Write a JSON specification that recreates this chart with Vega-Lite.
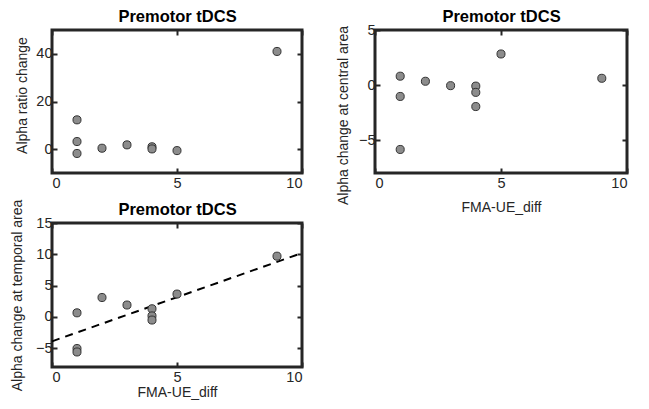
{
  "$schema": "https://vega.github.io/schema/vega-lite/v6.json",
  "background": "white",
  "padding": {"left": 8, "top": 6, "right": 5, "bottom": 5},
  "datasets": {
    "p1": [
      {"fma": 1, "val": 12.3}, {"fma": 1, "val": 3.2}, {"fma": 1, "val": -1.8},
      {"fma": 2, "val": 0.4}, {"fma": 3, "val": 1.8}, {"fma": 4, "val": 1.0},
      {"fma": 4, "val": 0.1}, {"fma": 5, "val": -0.6}, {"fma": 9, "val": 41}
    ],
    "p2": [
      {"fma": 1, "val": 0.8}, {"fma": 1, "val": -1.04}, {"fma": 1, "val": -5.86},
      {"fma": 2, "val": 0.34}, {"fma": 3, "val": -0.06}, {"fma": 4, "val": -0.1},
      {"fma": 4, "val": -0.67}, {"fma": 4, "val": -1.96}, {"fma": 5, "val": 2.82},
      {"fma": 9, "val": 0.61}
    ],
    "p3": [
      {"fma": 1, "val": 0.65}, {"fma": 1, "val": -5.05}, {"fma": 1, "val": -5.6},
      {"fma": 2, "val": 3.1}, {"fma": 3, "val": 1.9}, {"fma": 4, "val": 1.3},
      {"fma": 4, "val": 0.16}, {"fma": 4, "val": -0.5}, {"fma": 5, "val": 3.65},
      {"fma": 9, "val": 9.7}
    ],
    "fit": [
      {"fma": 0, "val": -3.9}, {"fma": 10, "val": 10.2}
    ]
  },
  "config": {
    "font": "Liberation Sans",
    "view": {"stroke": "#262626", "strokeWidth": 3},
    "axis": {
      "grid": false,
      "domain": false,
      "tickColor": "#262626",
      "tickWidth": 2,
      "tickSize": -5,
      "labelFont": "Liberation Sans",
      "labelFontSize": 14.5,
      "labelColor": "#262626",
      "titleFont": "Liberation Sans",
      "titleFontSize": 14,
      "titleFontWeight": "normal",
      "titleColor": "#262626"
    },
    "axisTop": {"titleFontSize": 16.5, "titleFontWeight": "bold", "titleColor": "#000000", "titlePadding": 5}
  },
  "concat": [
    {
      "width": 250, "height": 143,
      "resolve": {"axis": {"x": "independent", "y": "independent"}},
      "layer": [
        {
          "data": {"name": "p1"},
          "mark": {"type": "point", "filled": true, "fill": "#8c8c8c", "stroke": "#333333", "strokeWidth": 1, "opacity": 1, "size": 65, "shape": "circle"},
          "encoding": {
            "x": {"field": "fma", "type": "quantitative", "scale": {"domain": [0, 10], "nice": false, "zero": false},
                  "axis": {"orient": "bottom", "values": [0, 5, 10], "title": null, "labelPadding": 8}},
            "y": {"field": "val", "type": "quantitative", "scale": {"domain": [-10, 50], "nice": false, "zero": false},
                  "axis": {"orient": "left", "values": [0, 20, 40], "title": "Alpha ratio change", "labelPadding": 5, "titlePadding": 6, "titleY": 65}}
          }
        },
        {
          "data": {"name": "p1"},
          "mark": {"type": "point", "opacity": 0},
          "encoding": {
            "x": {"field": "fma", "type": "quantitative", "axis": {"orient": "top", "values": [0, 5, 10], "labels": false, "title": "Premotor tDCS"}},
            "y": {"field": "val", "type": "quantitative", "axis": {"orient": "right", "values": [0, 20, 40], "labels": false, "title": null}}
          }
        }
      ]
    },
    {
      "width": 252, "height": 143,
      "resolve": {"axis": {"x": "independent", "y": "independent"}},
      "layer": [
        {
          "data": {"name": "p2"},
          "mark": {"type": "point", "filled": true, "fill": "#8c8c8c", "stroke": "#333333", "strokeWidth": 1, "opacity": 1, "size": 65, "shape": "circle"},
          "encoding": {
            "x": {"field": "fma", "type": "quantitative", "scale": {"domain": [0, 10], "nice": false, "zero": false},
                  "axis": {"orient": "bottom", "values": [0, 5, 10], "title": "FMA-UE_diff", "labelPadding": 8, "titlePadding": 11}},
            "y": {"field": "val", "type": "quantitative", "scale": {"domain": [-8, 5], "nice": false, "zero": false},
                  "axis": {"orient": "left", "values": [-5, 0, 5], "title": "Alpha change at central area", "labelPadding": 5, "titlePadding": 8, "titleY": 85}}
          }
        },
        {
          "data": {"name": "p2"},
          "mark": {"type": "point", "opacity": 0},
          "encoding": {
            "x": {"field": "fma", "type": "quantitative", "axis": {"orient": "top", "values": [0, 5, 10], "labels": false, "title": "Premotor tDCS"}},
            "y": {"field": "val", "type": "quantitative", "axis": {"orient": "right", "values": [-5, 0, 5], "labels": false, "title": null}}
          }
        }
      ]
    },
    {
      "width": 250, "height": 144,
      "resolve": {"axis": {"x": "independent", "y": "independent"}},
      "layer": [
        {
          "data": {"name": "fit"},
          "mark": {"type": "line", "color": "#000000", "strokeWidth": 2, "strokeDash": [8, 6]},
          "encoding": {
            "x": {"field": "fma", "type": "quantitative", "scale": {"domain": [0, 10], "nice": false, "zero": false},
                  "axis": {"orient": "bottom", "values": [0, 5, 10], "title": "FMA-UE_diff", "labelPadding": 8, "titlePadding": 2}},
            "y": {"field": "val", "type": "quantitative", "scale": {"domain": [-8, 15], "nice": false, "zero": false},
                  "axis": {"orient": "left", "values": [-5, 0, 5, 10, 15], "title": "Alpha change at temporal area", "labelPadding": 5, "titlePadding": 11}}
          }
        },
        {
          "data": {"name": "p3"},
          "mark": {"type": "point", "filled": true, "fill": "#8c8c8c", "stroke": "#333333", "strokeWidth": 1, "opacity": 1, "size": 65, "shape": "circle"},
          "encoding": {
            "x": {"field": "fma", "type": "quantitative", "axis": {"orient": "top", "values": [0, 5, 10], "labels": false, "title": "Premotor tDCS"}},
            "y": {"field": "val", "type": "quantitative", "axis": {"orient": "right", "values": [-5, 0, 5, 10, 15], "labels": false, "title": null}}
          }
        }
      ]
    }
  ],
  "columns": 2,
  "bounds": "flush",
  "spacing": {"row": 50, "column": 73}
}
